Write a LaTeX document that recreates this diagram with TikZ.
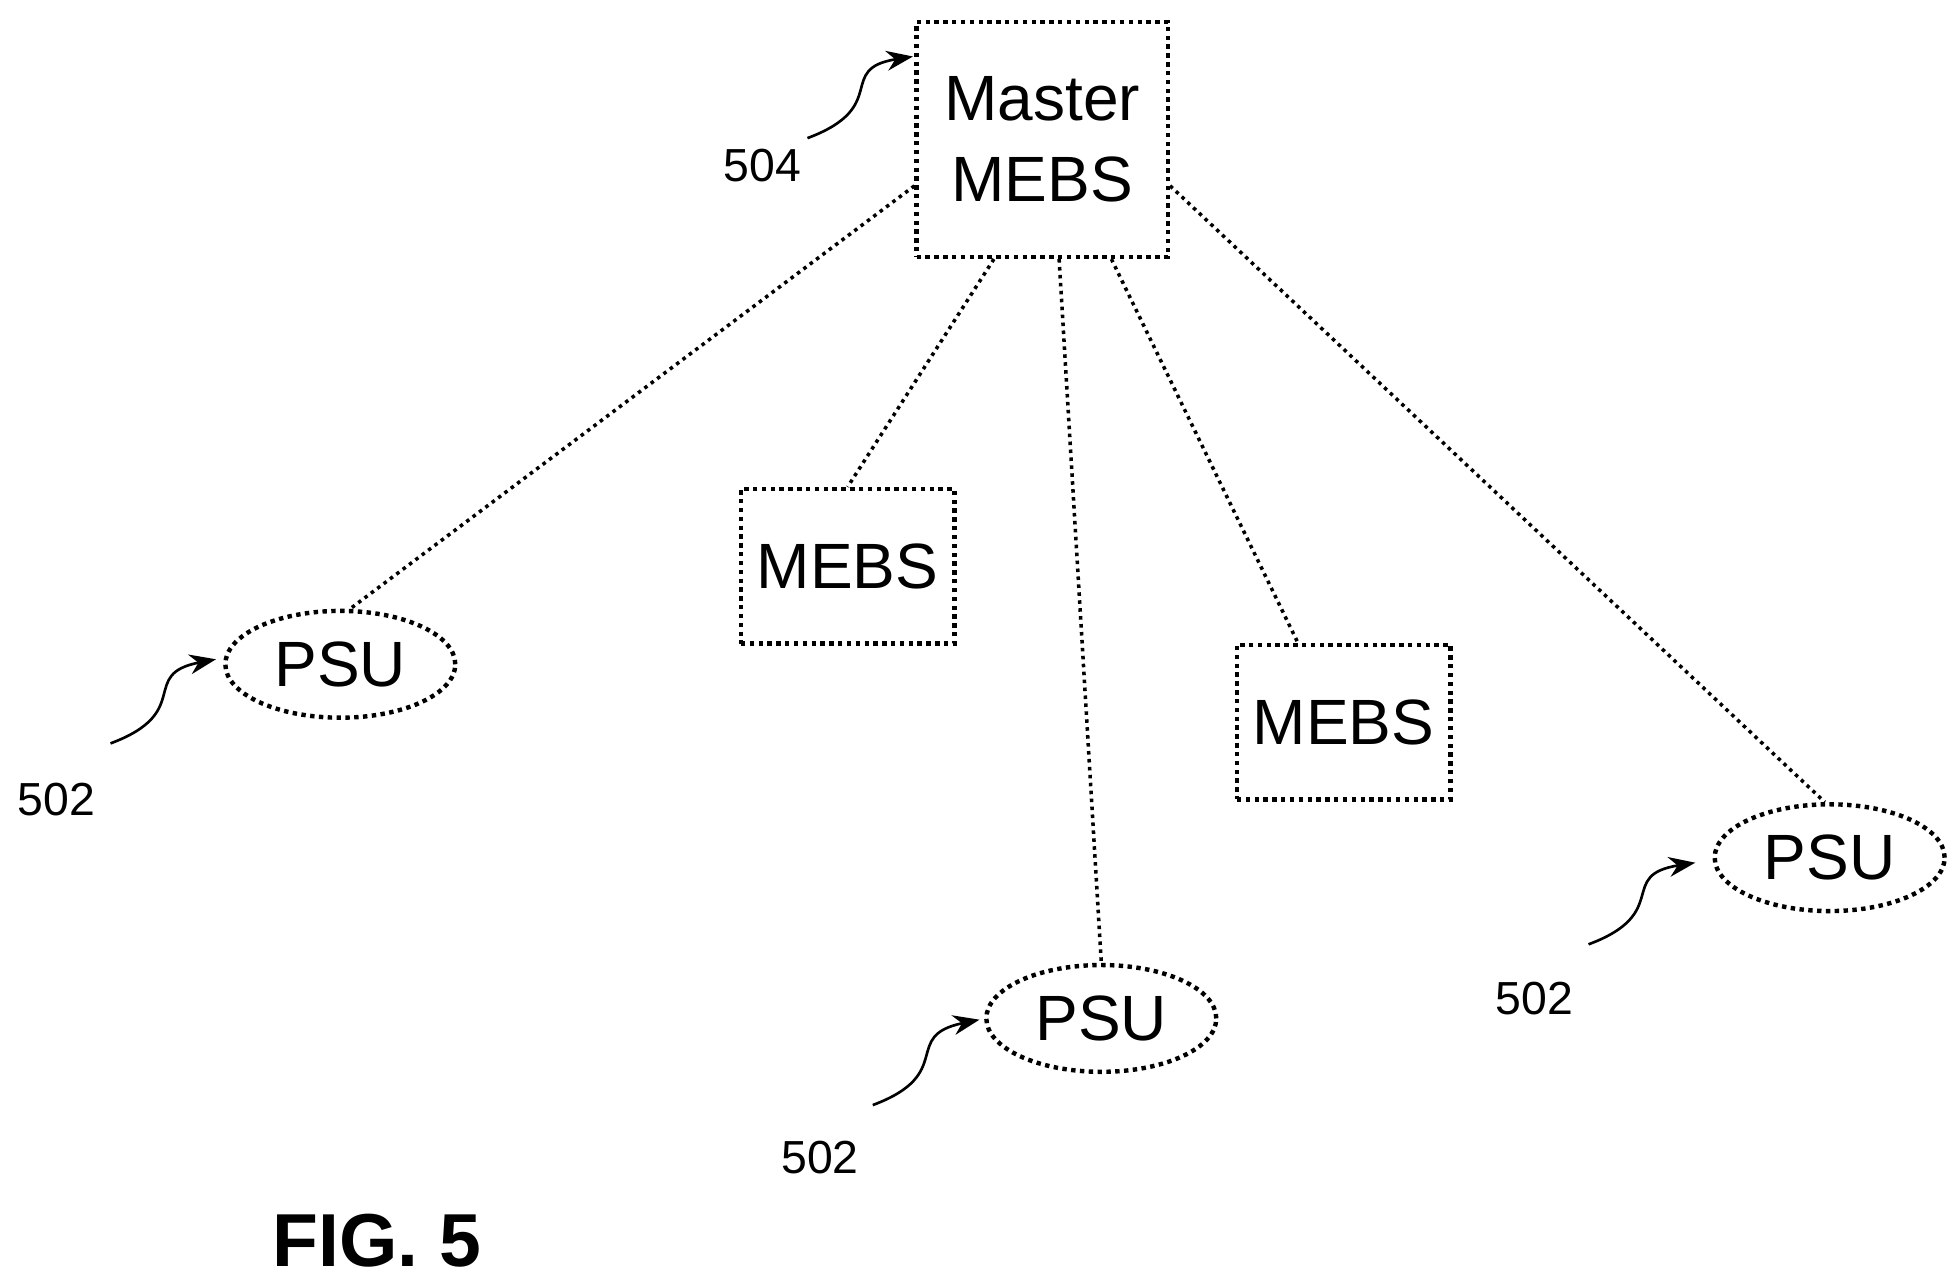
\documentclass[tikz,border=0pt]{standalone}
\usepackage{fontspec}
\setmainfont{Liberation Sans}
\usetikzlibrary{shapes.geometric,arrows.meta}
\tikzset{
  box/.style={draw, densely dotted, line width=1pt, minimum width=1.7cm, minimum height=1.23cm, inner sep=1pt, font=\fontsize{14.5}{18.5}\selectfont},
  psu/.style={ellipse, draw, densely dotted, line width=1pt, minimum width=1.83cm, minimum height=0.85cm, inner sep=1pt, font=\fontsize{14.5}{18}\selectfont},
  link/.style={densely dotted, line width=0.8pt},
  lead/.style={-{Stealth[length=6pt]}, line width=0.6pt},
  ref/.style={font=\fontsize{10.5}{12}\selectfont}
}
\begin{document}
\begin{tikzpicture}[x=0.01cm, y=-0.01cm]
            \useasboundingbox (0,0) rectangle (1560,1019);
            \node[box, minimum width=2cm, minimum height=1.87cm, align=center] (master) at (830,111) {Master\\MEBS};
            \node[box] (mebsa) at (675,451) {MEBS};
            \node[box] (mebsb) at (1070,575) {MEBS};
            \node[psu] (psul) at (271,529) {PSU};
            \node[psu] (psub) at (877,811) {PSU};
            \node[psu] (psur) at (1457,683) {PSU};

            \draw[link] (master.west |- 0,148) -- (psul.80);
            \draw[link] (master.-112) -- (mebsa.north);
            \draw[link] (master.-82) -- (psub.north);
            \draw[link] (master.-60) -- (mebsb.120);
            \draw[link] (master.east |- 0,148) -- (psur.95);

            % reference labels
            \node[ref] (r504) at (607,132) {504};
            \node[ref] (r502l) at (45,637) {502};
            \node[ref] (r502b) at (653,922) {502};
            \node[ref] (r502r) at (1222,795) {502};
            \draw[lead] (643,110) .. controls (710,85) and (665,55) .. (727,45);
            \draw[lead] (88,592) .. controls (155,567) and (110,537) .. (172,525);
            \draw[lead] (695,880) .. controls (762,855) and (717,825) .. (780,812);
            \draw[lead] (1265,752) .. controls (1332,727) and (1287,697) .. (1350,687);

            \node[font=\bfseries\fontsize{17}{20}\selectfont] (fig) at (300,988) {FIG. 5};
        \end{tikzpicture}
\end{document}
